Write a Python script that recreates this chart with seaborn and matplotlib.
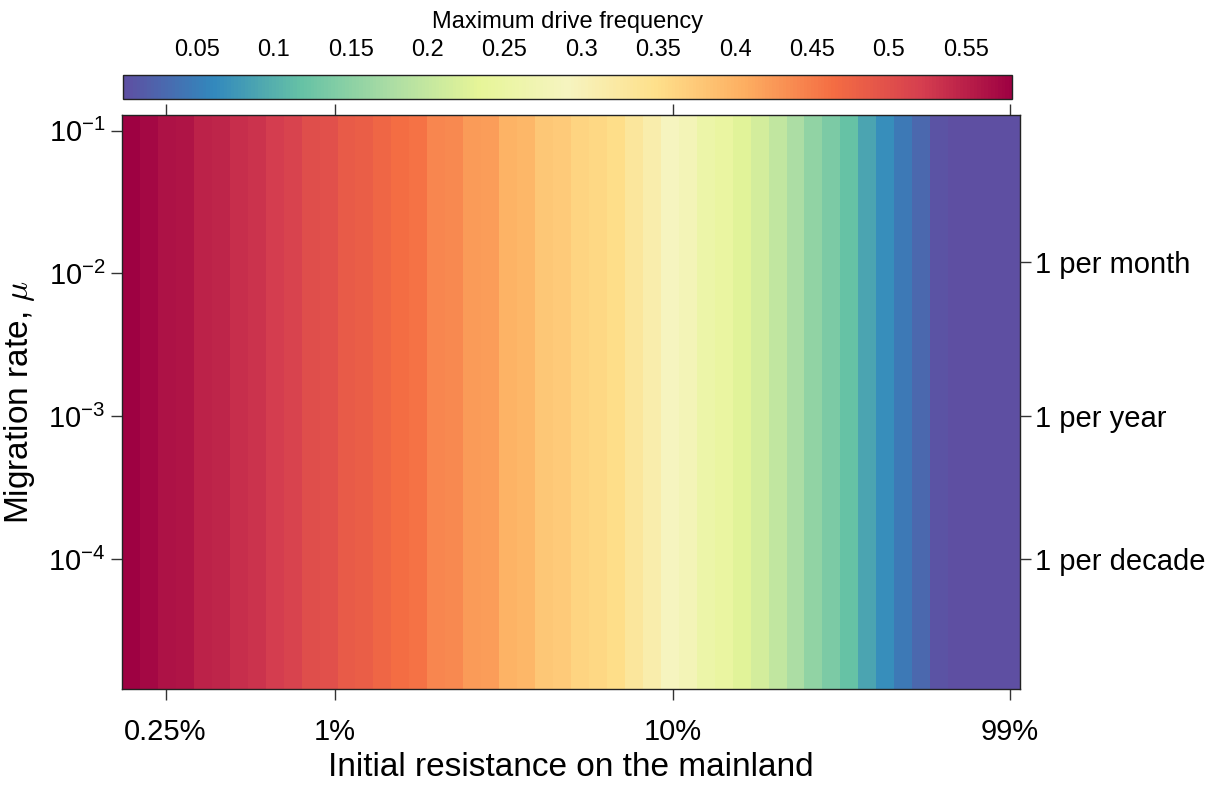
import numpy as np
import pandas as pd
import matplotlib
matplotlib.use("Agg")
import matplotlib.pyplot as plt
from matplotlib.ticker import NullLocator
import seaborn as sns

sns.set_style("ticks")
plt.rcParams['font.family'] = ['Liberation Sans', 'DejaVu Sans']
plt.rcParams['mathtext.fontset'] = 'cm'
plt.rcParams['axes.unicode_minus'] = False
for k in ['text.color', 'axes.labelcolor', 'xtick.color', 'ytick.color']:
    plt.rcParams[k] = 'black'

# grid: initial resistance on the mainland (fraction) and migration rate mu
resistance = np.logspace(np.log10(0.0025), 0, 50)
migration = np.logspace(-0.9, -4.9, 201)  # top row first

# maximum drive frequency for each resistance column (same for every mu)
drive_max = [0.580, 0.572, 0.564, 0.561, 0.548, 0.546, 0.535, 0.531, 0.522, 0.516,
             0.502, 0.500, 0.487, 0.481, 0.472, 0.463, 0.459, 0.442, 0.438, 0.423,
             0.420, 0.401, 0.395, 0.377, 0.373, 0.362, 0.358, 0.351, 0.331, 0.313,
             0.290, 0.279, 0.256, 0.248, 0.230, 0.216, 0.197, 0.178, 0.155, 0.137,
             0.118, 0.089, 0.067, 0.045, 0.028, 0.008, 0.002, 0.002, 0.002, 0.002]

# ticks
x_tick_pos = [10 ** -2.5, 0.01, 0.1, 0.99]
x_tick_labels = ["0.25%", "1%", "10%", "99%"]
y_ticks = [1e-1, 1e-2, 1e-3, 1e-4]
rate_ticks = [0.012, 1e-3, 1e-4]
rate_labels = ["1 per month", "1 per year", "1 per decade"]
cbar_ticks = [0.05, 0.1, 0.15, 0.2, 0.25, 0.3, 0.35, 0.4, 0.45, 0.5, 0.55]
cbar_labels = ["0.05", "0.1", "0.15", "0.2", "0.25", "0.3", "0.35", "0.4", "0.45", "0.5", "0.55"]

# spectral scheme, low values blue -> high values dark red (slightly muted cream centre)
spectral = ["#5e4fa2", "#3288bd", "#66c2a5", "#abdda4", "#e6f598", "#f6f4c0",
            "#fee08b", "#fdae61", "#f46d43", "#d53e4f", "#9e0142"]
cmap = sns.blend_palette(spectral, n_colors=64, as_cmap=True)


def log_edges(v):
    # outer cell edges, half a log-step beyond the first and last grid value
    lv = np.log10(v)
    step = lv[1] - lv[0]
    return 10 ** (lv[0] - step / 2), 10 ** (lv[-1] + step / 2)


fig = plt.figure(figsize=(12.14, 7.85), dpi=100)
ax = fig.add_axes([0.1005, 0.1223, 0.7397, 0.7312])
cax = fig.add_axes([0.1013, 0.8739, 0.7323, 0.0306])

grid = pd.DataFrame(np.tile(drive_max, (len(migration), 1)), index=migration, columns=resistance)
sns.heatmap(grid, ax=ax, cmap=cmap, vmin=min(drive_max), vmax=max(drive_max),
            cbar_ax=cax, cbar_kws={"orientation": "horizontal"},
            xticklabels=False, yticklabels=False)
ax.set_xlabel("")
ax.set_ylabel("")

# log axes laid over the heatmap for ticks and frame
frame = fig.add_axes(ax.get_position(), facecolor="none")
frame.set_xscale("log")
frame.set_yscale("log")
frame.set_xlim(*log_edges(resistance))
y_top, y_bottom = log_edges(migration)
frame.set_ylim(y_bottom, y_top)
frame.set_xticks(x_tick_pos, x_tick_labels)
frame.set_yticks(y_ticks)
frame.xaxis.set_minor_locator(NullLocator())
frame.yaxis.set_minor_locator(NullLocator())
frame.tick_params(axis="x", direction="out", length=8, width=1, labelsize=21, top=True, pad=13, color="#333333")
frame.tick_params(axis="y", direction="out", length=8, width=1, labelsize=21, pad=4, color="#333333")
for s in frame.spines.values():
    s.set_color("#222222")
    s.set_linewidth(1)
frame.set_xlabel("Initial resistance on the mainland", fontsize=24, labelpad=4)
frame.set_ylabel("Migration rate, $\\mu$", fontsize=24, labelpad=8)

rax = frame.twinx()
rax.set_yscale("log")
rax.set_ylim(frame.get_ylim())
rax.set_yticks(rate_ticks, rate_labels)
rax.yaxis.set_minor_locator(NullLocator())
rax.tick_params(axis="y", direction="out", length=8, width=1, labelsize=21, pad=3, color="#333333")
for s in rax.spines.values():
    s.set_visible(False)

# colorbar on top
cbar = ax.collections[0].colorbar
cbar.set_ticks(cbar_ticks, labels=cbar_labels)
cbar.outline.set_edgecolor("#222222")
cbar.outline.set_linewidth(1)
cax.xaxis.set_ticks_position("top")
cax.xaxis.set_label_position("top")
cax.xaxis.set_minor_locator(NullLocator())
cax.tick_params(axis="x", direction="in", length=7, width=1, labelsize=17, pad=10, color="#333333")
cax.set_xlabel("Maximum drive frequency", fontsize=17, labelpad=8)

fig.savefig("out.png", dpi=100)
